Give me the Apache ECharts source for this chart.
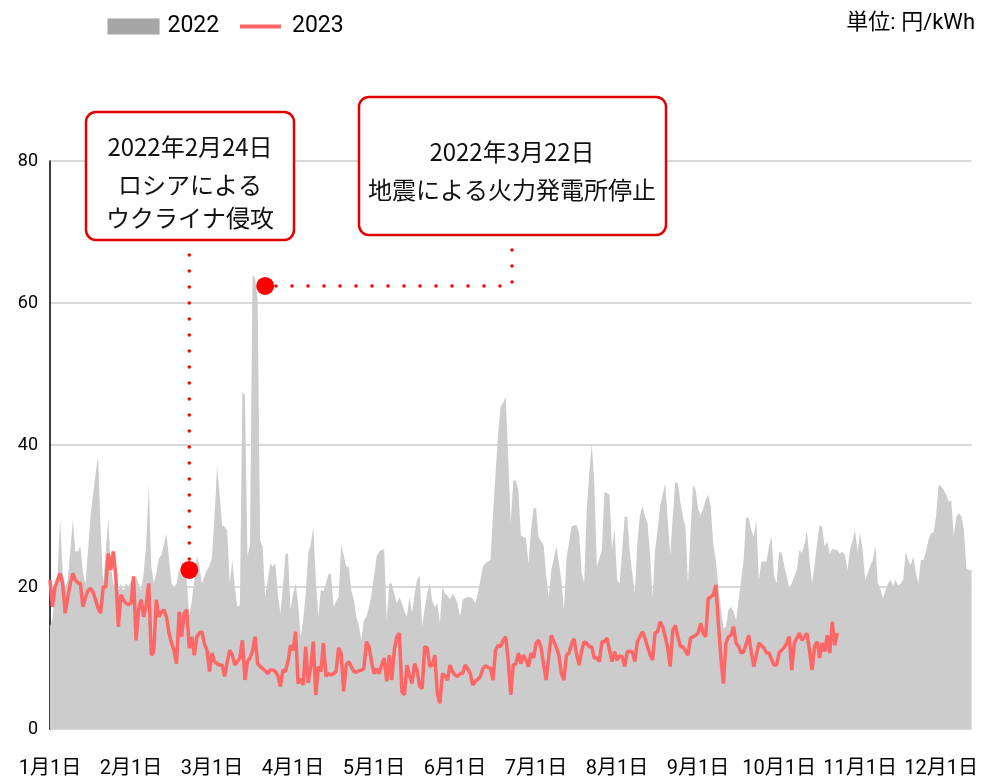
<!DOCTYPE html>
<html><head><meta charset="utf-8">
<script src="https://cdn.jsdelivr.net/npm/echarts@6/dist/echarts.min.js"></script>
<style>html,body{margin:0;padding:0;background:#fff}#c{width:981px;height:781px}</style>
</head><body><div id="c"></div>
<script>
// ---- data ----
const monthLabels = ['1月1日','2月1日','3月1日','4月1日','5月1日','6月1日','7月1日','8月1日','9月1日','10月1日','11月1日','12月1日'];
const daysInMonth = [31,28,31,30,31,30,31,31,30,31,30,31];
const yTicks = [0, 20, 40, 60, 80];
const unitText = '単位: 円/kWh';
const seriesNames = ['2022', '2023'];

// daily price, 2022 (Jan 1 .. Dec 31)
const price2022 = [
 14.5,15.5,20,22,29.7,22,20,21,25,29.5,
 25,25,25.7,22,20.5,25,30,33,36,38.4,
 28,20.5,25,29.7,23,20.5,20,19.5,20.5,19.5,
 20.5,20,21,20,21.5,20.5,19.5,22,26,34.5,
 23,20.5,22,24,24.5,26,27.5,24,20.5,20,
 20.5,22.4,21.5,22.9,21,16,18,21,24.3,
 23,20.5,21.5,22.4,23,24.3,30,37,33,28.7,
 28.5,28,20.5,23.8,20,17.2,17.5,47.5,47,24.3,26,
 64,63.5,60.5,26.5,25.7,18.6,21,23.3,22.9,23.3,
 19,16.3,20,24.7,24.7,16.8,19,20.5,17.7,13,
 15.4,19,24.7,26,28.5,21,15.8,19.6,19.4,20.5,
 21.9,21.8,17.2,18,18.6,26,24.5,22.9,22.9,19.5,
 18.2,15.8,14.5,12.5,15.3,15.8,
 17.2,19,21.5,24.3,25,25.2,25.3,15.3,20.5,20.5,
 19,17.7,18.6,17.7,16.5,15.8,18.6,16.3,19,21,
 21.7,14.4,17,19.1,20.5,18,17.2,17.7,14.9,20,
 19.1,18.8,18.2,19.1,18.5,17.7,15.8,18.2,18.4,18.6,
 18.6,18.3,17.7,19.1,21,22.9,23.3,23.6,23.8,30.4,
 36,41.6,45.4,46,46.8,38,29,35,35,33.7,27.3,27,26.9,
 23.3,28,31.1,31.1,27,26.4,25.9,21.5,18.6,22.4,
 24,25.7,23.5,21,16.8,24,26.2,28.5,28.7,28.7,
 27.6,22,20.5,30.8,36,40.2,34.6,22.9,24,25.2,
 33.4,33.2,33,25.2,28.3,21,20.5,25,29.9,29.9,
 25,21.9,19.1,26.2,30,31.4,30,29,24.7,18.6,
 25.2,28,31.4,33,34.6,29.4,24.5,29.9,34.8,34.6,32,29.9,28.5,
 20.5,27.6,34.4,33.7,31,30.1,31,32.3,33,31.3,
 26,23.8,20,17,14.2,14.4,16.8,17.2,16.5,15.3,
 18.2,21,23.8,29.9,29.7,28,27.1,29.4,21,23.6,
 23.6,23.6,25.7,27.1,21.5,20.5,25,24.8,23,21.5,
 19.8,20.5,21.5,22.4,25.2,24.8,26,28,23.8,20.5,
 23,26.2,28.7,28.5,25.7,26.4,24.7,25.4,25.2,25.2,24.7,25,
 24.5,22.4,25.2,26.5,28,25,27.6,25.2,21,21.9,
 23,23.8,25.9,20.5,19.8,18.4,19.5,20.5,21,20.2,
 21,20.2,20.5,21,25,23.8,23.1,24.3,22,20.5,
 23.8,23.8,25,26.6,27.6,27.6,30,34.4,34.2,33.7,
 33,32,32.2,27.1,29.9,30.4,30,28,22.6,22.4,22.4
];

// daily price, 2023 (Jan 1 .. early Nov)
const price2023 = [
 21,17.2,20,21,21.9,20.5,16.3,18.5,20.5,21.9,
 21,20.6,20.5,17.2,18.5,19.5,19.8,19.3,18.2,17,
 16.3,20,20,24.7,22.4,25,21.5,14.4,18.9,18.2,
 17.7,17.5,17.7,21.5,12.5,16.8,18.2,15.8,17.5,20.5,
 10.4,10.9,18.2,15.8,16.5,16.8,15.8,13.5,12.1,11,
 9.2,16.5,13,16.3,16.8,11.4,13,10.4,13,13.5,
 13.7,12,11.1,8.1,10.7,9.5,9.2,9,9,7.4,
 9.5,11.1,10.4,9,9.5,10,12.5,6.9,9.5,10,
 11,13,9.2,8.8,8.5,8.2,7.8,8.3,8.3,8.1,
 7.5,6.0,8.3,8.1,9.5,11.8,11.1,13.7,6.4,7.1,
 6.2,11.6,6.5,8.8,
 12.3,4.8,8.8,8.1,12.1,7.4,7.8,7.6,7.8,8.1,
 11.4,10.7,5.3,9,9.5,8.8,8.1,8.0,8.2,8.3,
 8.5,12.3,11.6,9.5,7.8,8.5,7.8,9,10,6.7,
 10.4,6.9,11.1,13,13.5,5.3,4.8,9,7.5,6.4,
 9.2,8.3,6.0,5.7,11.6,11.4,8.8,9,10.4,5.0,
 3.6,7.8,7.5,6.9,9,8.1,7.6,7.4,7.8,7.8,
 9,8.5,7.8,6.2,6.7,7,7.4,8.5,8.9,8.7,
 8.5,6.9,11.1,11.8,11.6,12.5,13,9.7,4.8,9,
 9.2,10.7,9.2,10.4,9.7,8.8,10.7,10,12.1,12.5,
 11.4,9,6.9,10.2,13.2,12.3,11.5,10.4,7.8,6.9,10.4,10.7,
 12,12.7,10.5,
 9,11,12.3,12.1,11.6,11.6,10,10,9.5,12.3,
 12.3,12.8,11.1,9.5,10.9,9.7,10.3,10.2,8.8,10.9,
 10.9,10.9,9.5,12.3,13,13.7,12.8,11.6,10.5,9.7,
 13.5,13.7,15.1,14.4,13,11.4,8.8,13.9,14.6,13,
 11.6,11.6,11,10.4,12.8,13,13.2,13.5,14.9,13.5,
 13,18.4,18.6,18.9,20.3,14.9,10,6.4,12.1,13,
 13.2,14.4,12.1,11.6,10.7,10.9,12,13.2,10.9,8.8,
 10.4,12.1,11.8,11.4,10.7,10.7,9.8,9,9,10.7,
 11.1,11.5,12.1,13,8.3,12.1,12.8,13.5,12.5,13,
 13.5,11.1,8.3,11.6,12.3,10,12.1,10.9,13.2,10.7,15.1,11.8,13.5
];

// annotations: [category index, value] and text lines
const event1Point = [55, 22.4];
const event1Lines = ['2022年2月24日', 'ロシアによる', 'ウクライナ侵攻'];
const event2Point = [85, 62.4];
const event2Lines = ['2022年3月22日', '地震による火力発電所停止'];

// category list of dates
const categories = [];
daysInMonth.forEach((n, m) => { for (let d = 1; d <= n; d++) categories.push((m + 1) + '月' + d + '日'); });

const FONT = 'Roboto, "Noto Sans CJK JP", sans-serif';
const JFONT = '"Noto Sans CJK JP", sans-serif';
const chart = echarts.init(document.getElementById('c'), null, {renderer: 'canvas'});

chart.setOption({
  animation: false,
  backgroundColor: '#fff',
  grid: {left: 50, right: 6, top: 161, bottom: 52, containLabel: false},
  legend: [
    {data: [{name: seriesNames[0], icon: 'rect', itemStyle: {color: '#a6a6a6', borderColor: '#d0d0d0', borderWidth: 1}}],
     left: 107, top: 15, padding: 0, itemWidth: 52, itemHeight: 16, selectedMode: false,
     textStyle: {fontSize: 23, color: '#000', fontFamily: FONT, padding: [0, 0, 0, 3]}},
    {data: [{name: seriesNames[1], icon: 'rect', itemStyle: {color: '#ff6666'}}],
     left: 240, top: 15, padding: 0, itemWidth: 41, itemHeight: 4, selectedMode: false,
     textStyle: {fontSize: 23, color: '#000', fontFamily: FONT, padding: [0, 0, 0, 6]}}
  ],
  xAxis: {
    type: 'category', data: categories, boundaryGap: false,
    axisLine: {show: false}, axisTick: {show: false}, splitLine: {show: false},
    axisLabel: {interval: 31, margin: 30, fontSize: 20, color: '#000', fontFamily: FONT,
      formatter: (v, i) => monthLabels[Math.round(i / 32)]}
  },
  yAxis: {
    type: 'value', min: yTicks[0], max: yTicks[yTicks.length - 1], interval: 20,
    axisLine: {show: true, lineStyle: {color: '#000', width: 1.5}},
    axisTick: {show: false},
    splitLine: {show: true, lineStyle: {color: '#cccccc', width: 1.5}},
    axisLabel: {fontSize: 18, color: '#000', margin: 12, fontFamily: FONT}
  },
  series: [
    {name: seriesNames[0], type: 'line', data: price2022, symbol: 'none', z: 2,
     lineStyle: {width: 0}, itemStyle: {color: '#a6a6a6'},
     areaStyle: {color: '#cccccc', opacity: 1}},
    {name: seriesNames[1], type: 'line', data: price2023, symbol: 'none', z: 3,
     lineStyle: {color: '#ff6666', width: 3.5}, itemStyle: {color: '#ff6666'},
     markPoint: {symbol: 'circle', symbolSize: 18, silent: true,
       itemStyle: {color: '#ff0000'}, label: {show: false},
       data: [{coord: event1Point}, {coord: event2Point}]}}
  ]
});

const p1 = chart.convertToPixel({gridIndex: 0}, event1Point);
const p2 = chart.convertToPixel({gridIndex: 0}, event2Point);
const dotStyle = {stroke: '#ff0000', lineWidth: 3.5, lineCap: 'round', lineDash: [0, 16], fill: null};
const box = (x, y, w, h) => ({type: 'rect', shape: {x, y, width: w, height: h, r: 10},
  style: {fill: '#fff', stroke: '#e00000', lineWidth: 2.5}, z: 100});
const txt = (t, x, y) => ({type: 'text', x, y, z: 101,
  style: {text: t, fontSize: 24, fontFamily: JFONT, fill: '#111', align: 'center', verticalAlign: 'middle'}});

chart.setOption({
  graphic: [
    {type: 'text', x: 975, y: 23, z: 101,
     style: {text: unitText, fontSize: 22, fontFamily: FONT, fill: '#000', align: 'right', verticalAlign: 'middle'}},
    {type: 'polyline', z: 90, shape: {points: [[p1[0], 255], [p1[0], p1[1] - 10]]}, style: dotStyle},
    {type: 'polyline', z: 90, shape: {points: [[512, 250], [512, p2[1]], [p2[0] + 10, p2[1]]]}, style: dotStyle},
    box(86, 112, 208, 128),
    txt(event1Lines[0], 190, 147), txt(event1Lines[1], 190, 185), txt(event1Lines[2], 190, 218),
    box(359, 97, 307, 138),
    txt(event2Lines[0], 512, 152), txt(event2Lines[1], 512, 190)
  ]
});
</script></body></html>
